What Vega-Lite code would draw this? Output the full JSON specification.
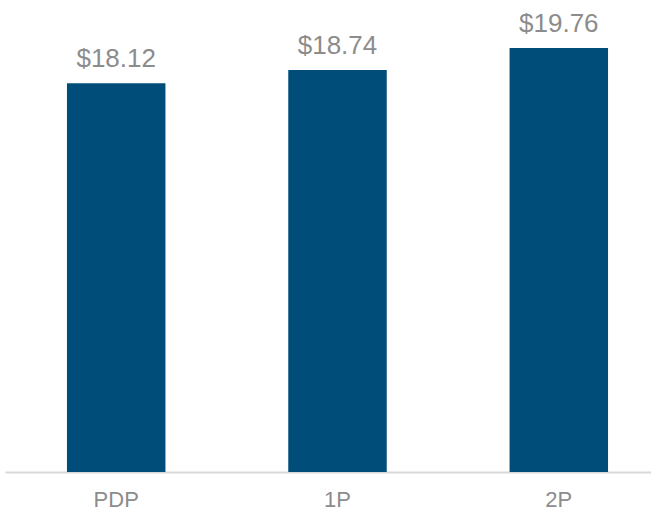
{
  "$schema": "https://vega.github.io/schema/vega-lite/v6.json",
  "autosize": "none",
  "width": 646,
  "height": 472,
  "padding": {"left": 5, "top": 0, "right": 0, "bottom": 40},
  "background": "white",
  "config": {"view": {"stroke": null}, "font": "Liberation Sans"},
  "data": {"values": [
    {"cat": "PDP", "value": 18.12},
    {"cat": "1P", "value": 18.74},
    {"cat": "2P", "value": 19.76}
  ]},
  "encoding": {
    "x": {"field": "cat", "type": "nominal", "sort": null,
      "scale": {"range": [0, 665], "paddingInner": 0.555, "paddingOuter": 0.28},
      "axis": {"title": null, "labelAngle": 0, "ticks": false, "grid": false, "domainColor": "#d9d9d9", "domainWidth": 2,
        "labelFont": "Liberation Sans", "labelFontSize": 22, "labelColor": "#8c8c8c", "labelPadding": 17}},
    "y": {"field": "value", "type": "quantitative", "scale": {"domain": [0, 22]}, "axis": null}
  },
  "layer": [
    {"mark": {"type": "bar", "color": "#004d7a"}},
    {"mark": {"type": "text", "baseline": "alphabetic", "dy": -16, "font": "Liberation Sans", "fontSize": 26, "color": "#8c8c8c"},
     "encoding": {"text": {"field": "value", "type": "quantitative", "format": "$.2f"}}}
  ]
}
